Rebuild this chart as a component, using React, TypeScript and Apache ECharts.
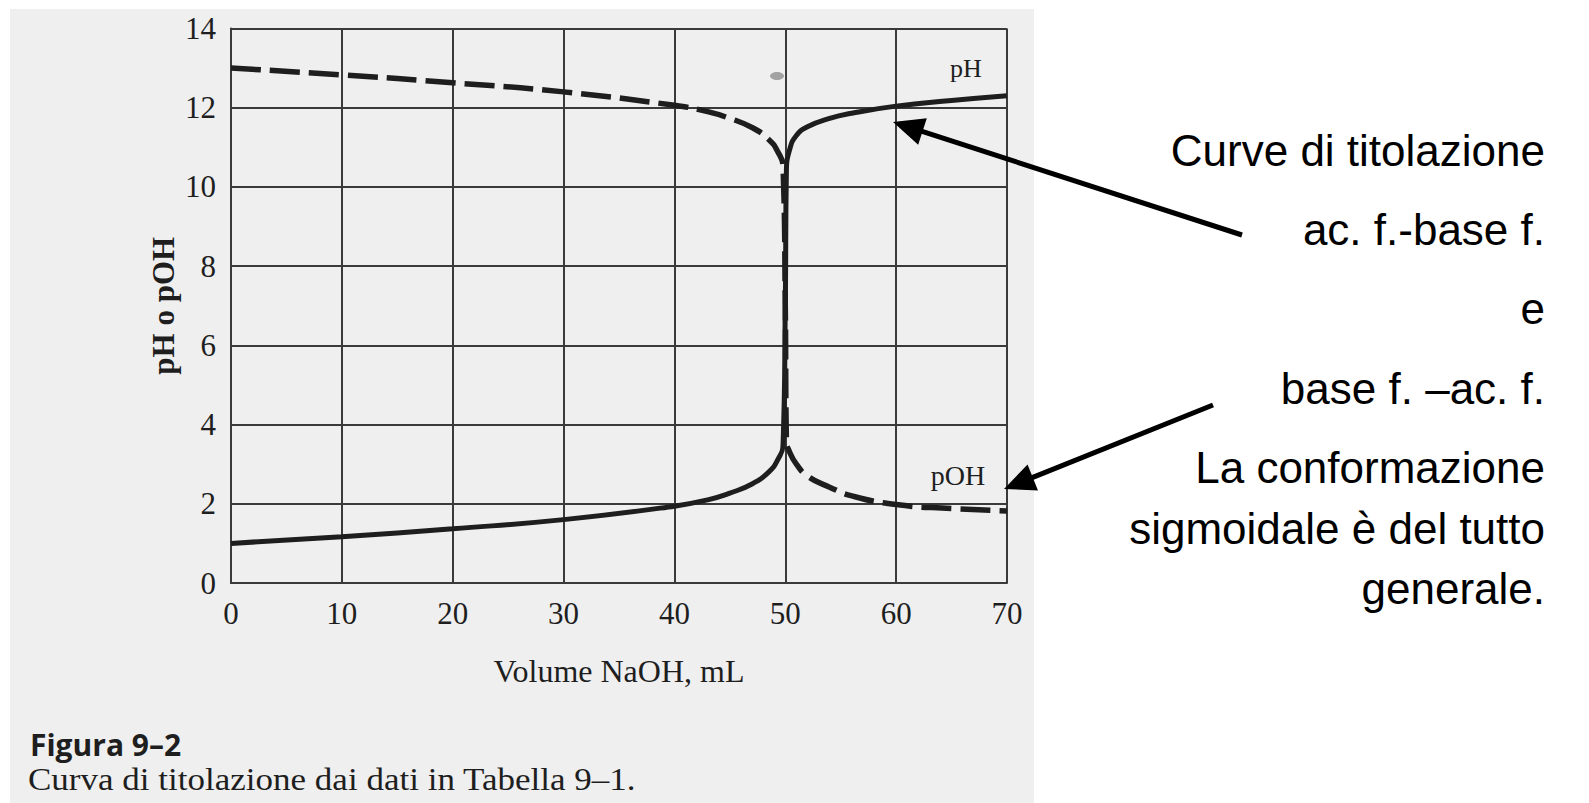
import React, { useEffect, useRef } from "react";
import * as echarts from "echarts";

// ---- data ----
const xMin = 0;
const xMax = 70;
const xStep = 10;
const yMin = 0;
const yMax = 14;
const yStep = 2;

const phVolume = [0, 10, 20, 30, 40, 43, 45, 47, 48.5, 49.3, 49.8, 50, 50.1, 50.4, 51, 52, 54, 56, 60, 65, 70];
const phValues = [1.0, 1.17, 1.37, 1.6, 1.94, 2.1, 2.27, 2.5, 2.8, 3.1, 3.5, 7.0, 10.4, 10.95, 11.3, 11.52, 11.73, 11.86, 12.04, 12.18, 12.3];

const pohVolume = [0, 10, 20, 30, 40, 43, 45, 47, 48.5, 49.3, 49.8, 50, 50.1, 50.4, 51, 52, 54, 56, 60, 65, 70];
const pohValues = [13.0, 12.83, 12.63, 12.4, 12.06, 11.9, 11.73, 11.5, 11.2, 10.9, 10.5, 7.0, 3.6, 3.3, 3.0, 2.7, 2.42, 2.2, 1.98, 1.88, 1.82];

const xAxisTitle = "Volume NaOH, mL";
const yAxisTitle = "pH o pOH";
const curveNames = ["pH", "pOH"];
const captionTitle = "Figura 9–2";
const captionText = "Curva di titolazione dai dati in Tabella 9–1.";
const sideNotes = [
  "Curve di titolazione",
  "ac. f.-base f.",
  "e",
  "base f. –ac. f.",
  "La conformazione",
  "sigmoidale è del tutto",
  "generale.",
];
const sideNoteY = [150, 229, 308, 388, 467, 528, 588];

const INK = "#1e1e1e";
const GRIDC = "#3a3a3a";
const SERIF = '"Liberation Serif", "Times New Roman", serif';
const SANS = '"Liberation Sans", Arial, sans-serif';

export default function App() {
  const ref = useRef<HTMLDivElement>(null);

  useEffect(() => {
    if (!ref.current) return;
    const chart = echarts.init(ref.current, undefined, { renderer: "svg" });

    const arrow = (tx: number, ty: number, sx: number, sy: number) => {
      const dx = sx - tx;
      const dy = sy - ty;
      const len = Math.sqrt(dx * dx + dy * dy);
      const ux = dx / len;
      const uy = dy / len;
      const hl = 31;
      const hw = 14;
      const bx = tx + ux * hl;
      const by = ty + uy * hl;
      return [
        {
          type: "line",
          z: 100,
          silent: true,
          shape: { x1: sx, y1: sy, x2: bx - ux * 2, y2: by - uy * 2 },
          style: { stroke: "#000", lineWidth: 5 },
        },
        {
          type: "polygon",
          z: 100,
          silent: true,
          shape: {
            points: [
              [tx, ty],
              [bx - uy * hw, by + ux * hw],
              [bx + uy * hw, by - ux * hw],
            ],
          },
          style: { fill: "#000" },
        },
      ];
    };

    const graphic: any[] = [
      {
        type: "rect",
        z: -1,
        silent: true,
        shape: { x: 10, y: 9, width: 1024, height: 794 },
        style: { fill: "#efefef" },
      },
      {
        type: "ellipse",
        z: 1,
        silent: true,
        shape: { cx: 777, cy: 76, rx: 7, ry: 4 },
        style: { fill: "#8e8e8e", opacity: 0.8 },
      },
      {
        type: "text",
        z: 100,
        x: 966,
        y: 68,
        style: { text: curveNames[0], font: `26px ${SERIF}`, fill: INK, align: "center", verticalAlign: "middle" },
      },
      {
        type: "text",
        z: 100,
        x: 958,
        y: 475,
        style: { text: curveNames[1], font: `28px ${SERIF}`, fill: INK, align: "center", verticalAlign: "middle" },
      },
      {
        type: "text",
        z: 100,
        x: 30,
        y: 744,
        style: { text: captionTitle, font: `bold 30px "Open Sans", sans-serif`, fill: INK, align: "left", verticalAlign: "middle" },
      },
      {
        type: "text",
        z: 100,
        x: 28,
        y: 780,
        scaleX: 1.13,
        style: { text: captionText, font: `31px ${SERIF}`, fill: INK, align: "left", verticalAlign: "middle" },
      },
      ...sideNotes.map((t, i) => ({
        type: "text",
        z: 100,
        x: 1545,
        y: sideNoteY[i],
        style: { text: t, font: `44px ${SANS}`, fill: "#000", align: "right", verticalAlign: "middle" },
      })),
      ...arrow(893, 122, 1242, 235),
      ...arrow(1004, 489, 1213, 405),
    ];

    const option: any = {
      animation: false,
      backgroundColor: "#ffffff",
      grid: { left: 231, right: 582, top: 28.5, bottom: 220, containLabel: false },
      xAxis: {
        type: "value",
        min: xMin,
        max: xMax,
        interval: xStep,
        name: xAxisTitle,
        nameLocation: "middle",
        nameGap: 72,
        nameTextStyle: { fontFamily: SERIF, fontSize: 32, color: INK },
        axisLine: { show: true, onZero: false, lineStyle: { color: GRIDC, width: 2 } },
        axisTick: { show: false },
        axisLabel: { margin: 15, fontFamily: SERIF, fontSize: 31, color: INK },
        splitLine: { show: true, lineStyle: { color: GRIDC, width: 2 } },
      },
      yAxis: {
        type: "value",
        min: yMin,
        max: yMax,
        interval: yStep,
        name: yAxisTitle,
        nameLocation: "middle",
        nameRotate: 90,
        nameGap: 52,
        nameTextStyle: { fontFamily: SERIF, fontSize: 31, fontWeight: "bold", color: INK },
        axisLine: { show: true, lineStyle: { color: GRIDC, width: 2 } },
        axisTick: { show: false },
        axisLabel: { margin: 15, fontFamily: SERIF, fontSize: 31, color: INK },
        splitLine: { show: true, lineStyle: { color: GRIDC, width: 2 } },
      },
      series: [
        {
          name: curveNames[0],
          type: "line",
          data: phVolume.map((v, i) => [v, phValues[i]]),
          symbol: "none",
          smooth: 0.5,
          lineStyle: { color: INK, width: 5 },
          z: 3,
        },
        {
          name: curveNames[1],
          type: "line",
          data: pohVolume.map((v, i) => [v, pohValues[i]]),
          symbol: "none",
          smooth: 0.5,
          lineStyle: { color: INK, width: 5.5, type: [30, 9] },
          z: 2,
        },
      ],
      graphic,
    };

    chart.setOption(option);
    return () => chart.dispose();
  }, []);

  return (
    <div
      ref={ref}
      style={{ position: "fixed", left: 0, top: 0, width: 1589, height: 803 }}
    />
  );
}
